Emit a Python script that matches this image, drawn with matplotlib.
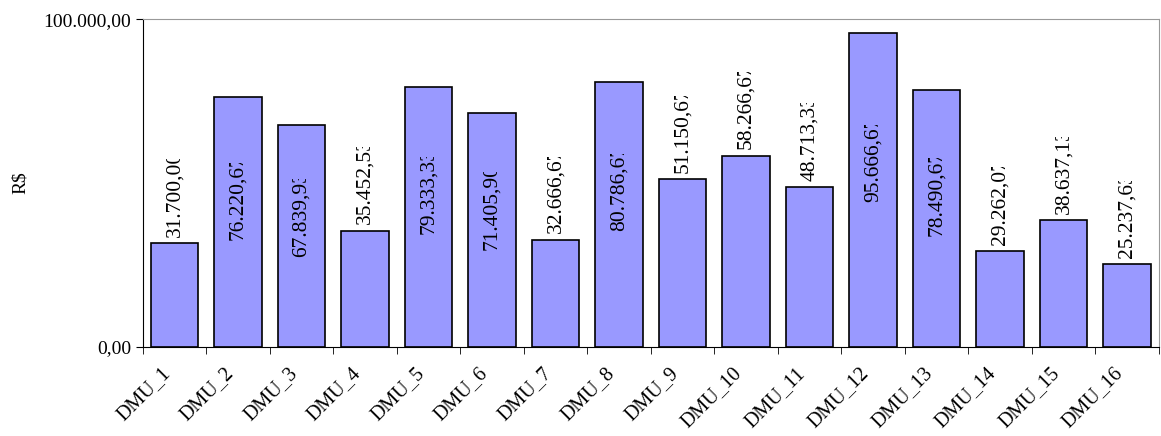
import numpy as np
import matplotlib
matplotlib.use("Agg")
import matplotlib.pyplot as plt
from matplotlib.transforms import Bbox, ScaledTranslation

plt.rcParams['font.family'] = ['Liberation Serif', 'DejaVu Serif']

# data
dmus = ['DMU_1', 'DMU_2', 'DMU_3', 'DMU_4', 'DMU_5', 'DMU_6', 'DMU_7', 'DMU_8',
        'DMU_9', 'DMU_10', 'DMU_11', 'DMU_12', 'DMU_13', 'DMU_14', 'DMU_15', 'DMU_16']
custo = [31700.00, 76220.67, 67839.93, 35452.53, 79333.33, 71405.90, 32666.67, 80786.67,
         51150.67, 58266.67, 48713.33, 95666.67, 78490.67, 29262.07, 38637.13, 25237.63]
y_ticks = [0, 100000]


def br(v):
    # brazilian number format 12.345,67
    s = f"{v:,.2f}"
    return s.replace(',', 'X').replace('.', ',').replace('X', '.')


fig = plt.figure(figsize=(11.61, 4.36), dpi=100)
ax = fig.add_axes([0.123, 0.204, 0.875, 0.752])

x = np.arange(len(dmus))
ax.bar(x, custo, width=0.75, color='#9999FF', edgecolor='black', linewidth=1.2)

ax.set_xlim(-0.5, len(dmus) - 0.5)
ax.set_ylim(0, 100000)
ax.set_yticks(y_ticks)
ax.set_yticklabels([br(v) for v in y_ticks], fontsize=14)
ax.set_ylabel('R$', fontsize=14)
ax.yaxis.set_label_coords(-0.112, 0.5)

ax.set_xticks(x)
ax.set_xticklabels(dmus, rotation=45, ha='right', va='top', rotation_mode='anchor', fontsize=14.5)
ax.tick_params(axis='x', which='major', length=0, pad=12)
shift = ScaledTranslation(-10 / 72, 0, fig.dpi_scale_trans)
for lab in ax.get_xticklabels():
    lab.set_transform(lab.get_transform() + shift)
ax.set_xticks(np.arange(-0.5, len(dmus), 1), minor=True)
ax.tick_params(axis='x', which='minor', length=5, direction='out')
ax.tick_params(axis='y', length=5, direction='out')

for s in ['top', 'right']:
    ax.spines[s].set_color('#999999')
for s in ['left', 'bottom']:
    ax.spines[s].set_color('black')

# value labels, rotated; tall bars get them inside
texts = []
for xi, v in zip(x, custo):
    if v > 65000:
        t = ax.text(xi, v * 0.6, br(v), rotation=90, ha='center', va='center', fontsize=15.5)
    else:
        t = ax.text(xi, v + 2000, br(v), rotation=90, ha='center', va='bottom', fontsize=15.5)
    texts.append(t)

# Excel cut the labels short, emulate that
fig.canvas.draw()
for t in texts:
    bb = t.get_window_extent()
    L = bb.height * 0.9
    t.set_clip_box(Bbox([[bb.x0 - 5, bb.y0 - 2], [bb.x1 + 5, bb.y0 + L]]))
    t.set_clip_on(True)

fig.savefig('out.png', dpi=100)
